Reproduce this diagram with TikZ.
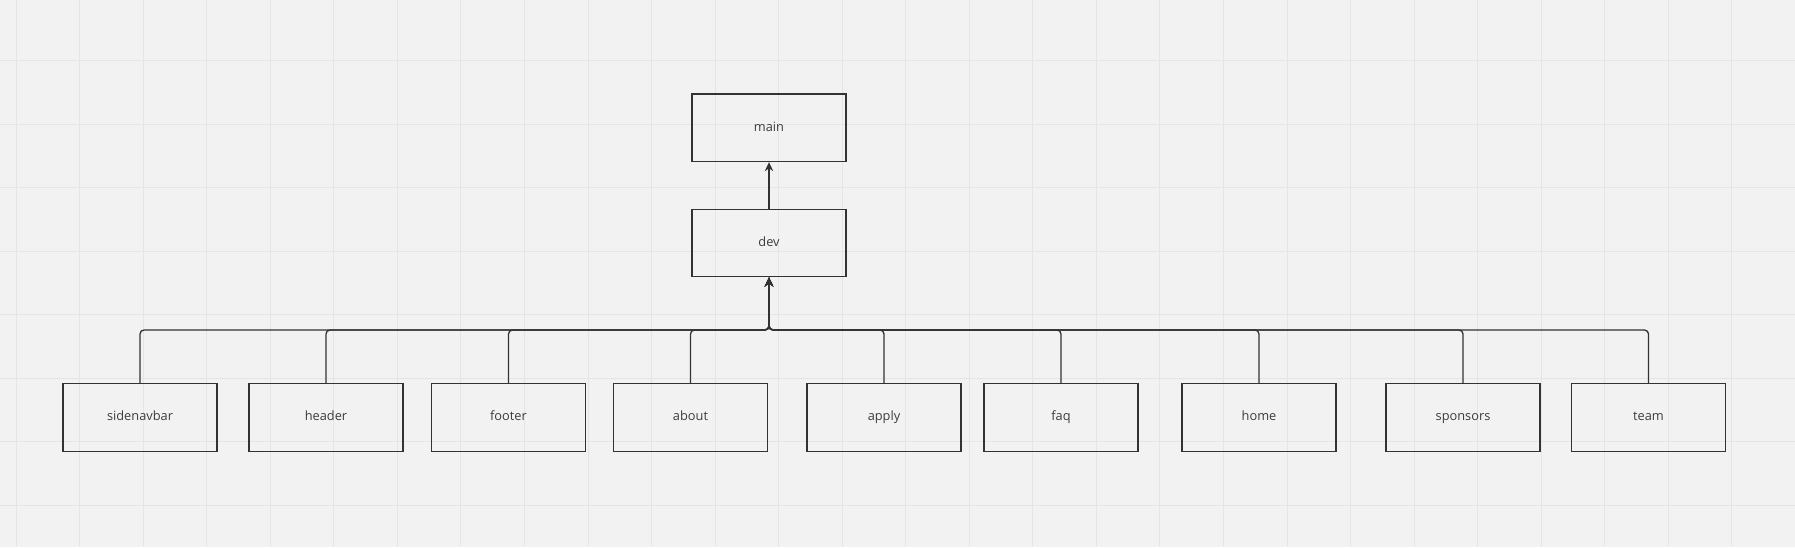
\documentclass[tikz,border=0pt]{standalone}
\usepackage{fontspec}
\setmainfont{Open Sans}
\usetikzlibrary{arrows.meta}
\definecolor{bg}{HTML}{F2F2F2}
\definecolor{gridc}{HTML}{E5E5E5}
\definecolor{ink}{HTML}{333333}
\definecolor{txt}{HTML}{3C3C3C}
\tikzset{
  box/.style={draw=ink, line width=1.4pt, minimum width=154pt, minimum height=67.5pt, inner sep=0pt, text height=1.7ex, text depth=0.4ex, font=\fontsize{12.8}{14}\selectfont, text=txt},
  conn/.style={draw=ink, line width=1.3pt, rounded corners=4pt, -{Stealth[length=9pt,width=8.5pt]}},
  gridline/.style={draw=gridc, line width=0.9pt}
}
\begin{document}
\begin{tikzpicture}[x=1pt,y=1pt]
\useasboundingbox (0,0) rectangle (1795,547);
\fill[bg] (0,0) rectangle (1795,547);
\foreach \i in {0,...,28} \draw[gridline] ({16+63.55*\i},0) -- ++(0,547);
\foreach \j in {0,...,8} \draw[gridline] (0,{550-63.55*\j}) -- ++(1795,0);
\node[box] (main) at (769,419.25) {main};
\node[box] (dev) at (769,304) {dev};
\node[box] (sidenavbar) at (140,129.5) {sidenavbar};
\node[box] (header) at (326,129.5) {header};
\node[box] (footer) at (508.5,129.5) {footer};
\node[box] (about) at (690.5,129.5) {about};
\node[box] (apply) at (884,129.5) {apply};
\node[box] (faq) at (1061,129.5) {faq};
\node[box] (home) at (1259,129.5) {home};
\node[box] (sponsors) at (1463,129.5) {sponsors};
\node[box] (team) at (1648.5,129.5) {team};
\coordinate (bus) at (769,217);
\draw[conn] (dev.north) -- (main.south);
\foreach \c in {sidenavbar,header,footer,about,apply,faq,home,sponsors,team}
  \draw[conn] (\c.north) |- (bus) -- (dev.south);
\end{tikzpicture}
\end{document}
